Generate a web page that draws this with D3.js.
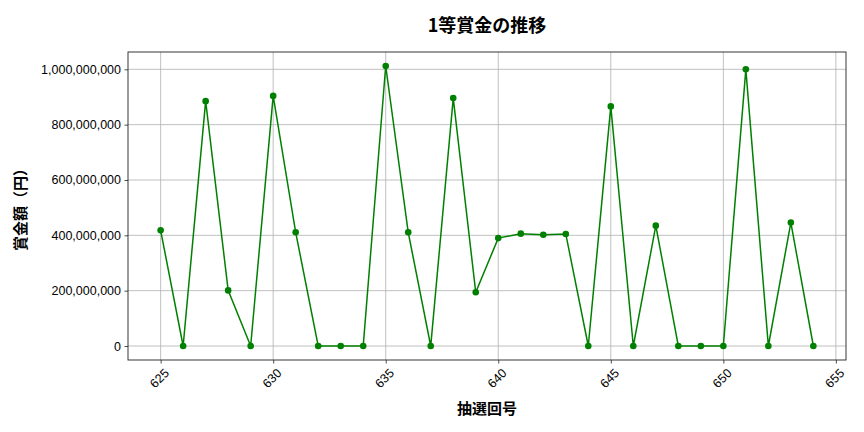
<!DOCTYPE html>
<html>
<head>
<meta charset="utf-8">
<script src="https://cdn.jsdelivr.net/npm/d3@7"></script>
<style>
  body { margin: 0; background: #fff; }
  svg { font-family: "Noto Sans CJK JP", "Noto Sans", sans-serif; }
</style>
</head>
<body>
<svg id="chart" width="864" height="432"></svg>
<script>
// 抽選回号
const rounds = [625, 626, 627, 628, 629, 630, 631, 632, 633, 634,
                635, 636, 637, 638, 639, 640, 641, 642, 643, 644,
                645, 646, 647, 648, 649, 650, 651, 652, 653, 654];
// 1等賞金 (円)
const prizes = [418e6, 0, 885e6, 201e6, 0, 904e6, 411e6, 0, 0, 0,
                1012e6, 411e6, 0, 896e6, 194e6, 390e6, 406e6, 402e6, 405e6, 0,
                866e6, 0, 435e6, 0, 0, 0, 1000e6, 0, 446e6, 0];
const xTicks = [625, 630, 635, 640, 645, 650, 655];
const yTicks = [0, 2e8, 4e8, 6e8, 8e8, 1e9];

const svg = d3.select("#chart");
const margin = {left: 128, right: 18, top: 52, bottom: 72};
const W = 864, H = 432;

const data = rounds.map((r, i) => ({round: r, prize: prizes[i]}));

const xmin = d3.min(rounds), xmax = d3.max(rounds);
const xpad = (xmax - xmin) * 0.05;
const ymax = d3.max(prizes), ypad = ymax * 0.05;

const x = d3.scaleLinear()
    .domain([xmin - xpad, xmax + xpad])
    .range([margin.left, W - margin.right]);
const y = d3.scaleLinear()
    .domain([-ypad, ymax + ypad])
    .range([H - margin.bottom, margin.top]);

// grid
svg.append("g")
    .selectAll("line.vg")
    .data(xTicks)
    .enter().append("line")
    .attr("x1", d => x(d)).attr("x2", d => x(d))
    .attr("y1", margin.top).attr("y2", H - margin.bottom)
    .attr("stroke", "#b0b0b0").attr("stroke-width", 0.8);
svg.append("g")
    .selectAll("line.hg")
    .data(yTicks)
    .enter().append("line")
    .attr("x1", margin.left).attr("x2", W - margin.right)
    .attr("y1", d => y(d)).attr("y2", d => y(d))
    .attr("stroke", "#b0b0b0").attr("stroke-width", 0.8);

// axes
const xAxis = svg.append("g")
    .attr("transform", "translate(0," + (H - margin.bottom) + ")")
    .call(d3.axisBottom(x).tickValues(xTicks).tickSize(3.5).tickSizeOuter(0).tickFormat(d3.format("d")));
xAxis.select(".domain").remove();
xAxis.selectAll("line").attr("stroke", "#222").attr("stroke-width", 0.8);
xAxis.selectAll("text")
    .attr("font-size", 12.5)
    .attr("fill", "#000")
    .attr("text-anchor", "middle")
    .attr("dy", null)
    .attr("y", 0)
    .attr("transform", "translate(-1,19) rotate(-45)")
    .attr("dominant-baseline", "middle");

const yAxis = svg.append("g")
    .attr("transform", "translate(" + margin.left + ",0)")
    .call(d3.axisLeft(y).tickValues(yTicks).tickSize(3.5).tickSizeOuter(0).tickFormat(d3.format(",")));
yAxis.select(".domain").remove();
yAxis.selectAll("line").attr("stroke", "#222").attr("stroke-width", 0.8);
yAxis.selectAll("text")
    .attr("font-size", 12.5)
    .attr("fill", "#000")
    .attr("x", -7);

// frame
svg.append("rect")
    .attr("x", margin.left).attr("y", margin.top)
    .attr("width", W - margin.left - margin.right)
    .attr("height", H - margin.top - margin.bottom)
    .attr("fill", "none").attr("stroke", "#222").attr("stroke-width", 0.9);

// line + markers
const line = d3.line().x(d => x(d.round)).y(d => y(d.prize));
svg.append("path")
    .datum(data)
    .attr("d", line)
    .attr("fill", "none")
    .attr("stroke", "green")
    .attr("stroke-width", 1.5);
svg.selectAll("circle.pt")
    .data(data)
    .enter().append("circle")
    .attr("cx", d => x(d.round))
    .attr("cy", d => y(d.prize))
    .attr("r", 3.3)
    .attr("fill", "green");

// labels
svg.append("text")
    .attr("x", (margin.left + W - margin.right) / 2).attr("y", 32)
    .attr("text-anchor", "middle")
    .attr("font-size", 18).attr("font-weight", "bold")
    .text("1等賞金の推移");
svg.append("text")
    .attr("x", (margin.left + W - margin.right) / 2).attr("y", 414)
    .attr("text-anchor", "middle")
    .attr("font-size", 15).attr("font-weight", "bold")
    .text("抽選回号");
svg.append("text")
    .attr("transform", "translate(26," + ((margin.top + H - margin.bottom) / 2) + ") rotate(-90)")
    .attr("text-anchor", "middle")
    .attr("font-size", 15).attr("font-weight", "bold")
    .text("賞金額（円）");
</script>
</body>
</html>
